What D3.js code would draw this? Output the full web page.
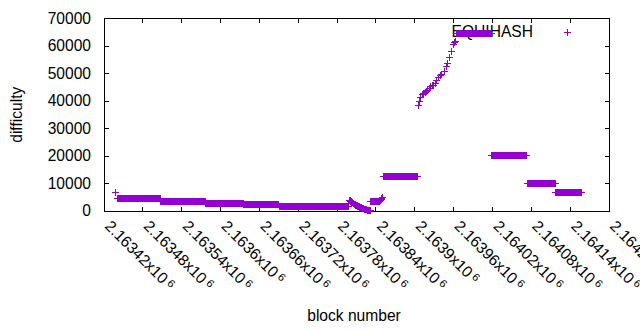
<!DOCTYPE html>
<html><head><meta charset="utf-8">
<script src="https://cdn.jsdelivr.net/npm/d3@7"></script>
<style>
body{margin:0;background:#fff}
svg{display:block}
text{font-family:"Liberation Sans",Arial,sans-serif;fill:#000}
</style>
</head><body>
<svg id="c" width="640" height="330"></svg>
<script>
// ---- data ----
const seriesName = "EQUIHASH";
const xTickValues = [2163420,2163480,2163540,2163600,2163660,2163720,2163780,2163840,2163900,2163960,2164020,2164080,2164140,2164200];
const xTickLabels = ["2.16342","2.16348","2.16354","2.1636","2.16366","2.16372","2.16378","2.16384","2.1639","2.16396","2.16402","2.16408","2.16414","2.1642"];
const yTickValues = [0,10000,20000,30000,40000,50000,60000,70000];
const yTickLabels = ["0","10000","20000","30000","40000","50000","60000","70000"];

// constant-difficulty runs (first block, last block, difficulty)
const runStart = [2163441,2163508,2163577,2163636,2163691,2163852,2163965,2164019,2164074,2164118];
const runEnd   = [2163507,2163576,2163635,2163690,2163798,2163904,2164018,2164073,2164117,2164158];
const runValue = [4600,3500,2750,2200,1800,12700,64500,20100,10000,6800];

// individual blocks (first block, drop, recovery, climb)
const pointBlocks = [2163438,
  2163799,2163800,2163801,2163802,2163803,2163804,2163805,2163806,2163807,2163808,2163809,2163810,2163811,2163812,2163813,2163814,2163815,
  2163816,2163817,2163818,2163819,2163820,2163821,2163822,2163823,2163824,2163825,2163826,2163827,2163828,2163829,2163830,2163831,
  2163832,2163833,2163834,2163835,2163836,2163837,2163838,2163839,2163840,2163841,2163842,2163843,2163844,2163845,2163846,2163847,2163848,
  2163849,2163850,
  2163905,2163907,2163909,2163912,2163914,2163916,2163918,2163920,2163922,2163925,2163927,2163929,2163932,2163934,2163937,2163940,2163942,
  2163946,2163949,2163951,2163953,2163957,2163960,2163962,2163963];
const pointValues = [6800,
  3800,3900,3600,3400,3200,3000,2800,2700,2500,2300,2100,2000,1900,1800,1600,1500,1400,
  1300,1200,1100,1000,900,800,700,600,500,500,400,300,300,200,200,100,
  3400,3500,3500,3400,3500,3600,3500,3500,3600,3500,3600,3500,3500,3600,3700,3900,4200,
  4600,5000,
  38300,39700,41300,42200,42700,43100,43600,44000,44500,45100,45500,45800,46200,47600,48500,49100,49600,
  50700,52500,53800,55900,57900,60400,61100,61800];

// ---- build point table ----
const points = [];
runStart.forEach((s, i) => { for (let b = s; b <= runEnd[i]; b++) points.push({b, v: runValue[i]}); });
pointBlocks.forEach((b, i) => points.push({b, v: pointValues[i]}));

// ---- layout ----
const L = 104, R = 609, T = 18.5, B = 211;
const color = "#9400d3";
const svg = d3.select("#c");
const x = d3.scaleLinear().domain([2163420, 2164200]).range([L, R]);
const y = d3.scaleLinear().domain([0, 70000]).range([B, T]);
const FS = 15.6;

function label(g, px, py, ang, str, anchor) {
  return g.append("text")
    .attr("transform", `translate(${px},${py}) rotate(${ang})`)
    .attr("text-anchor", anchor).attr("font-size", FS).text(str);
}

// border
svg.append("rect").attr("x", L).attr("y", T).attr("width", R - L).attr("height", B - T)
  .attr("fill", "none").attr("stroke", "#000").attr("stroke-width", 1).attr("shape-rendering", "crispEdges");

const tl = 4.5;
// x ticks
const gx = svg.append("g");
gx.selectAll("path.xt").data(xTickValues).join("path")
  .attr("d", d => `M${x(d)},${B}v${-tl}M${x(d)},${T}v${tl}`)
  .attr("stroke", "#000").attr("shape-rendering", "crispEdges");
xTickValues.forEach((d, i) => {
  const t = label(gx, x(d), 227, 45, xTickLabels[i] + "x10", "start");
  t.append("tspan").attr("font-size", 11).attr("dx", 3).attr("dy", -4).text("6");
});
// y ticks
const gy = svg.append("g");
gy.selectAll("path.yt").data(yTickValues).join("path")
  .attr("d", d => `M${L},${y(d)}h${tl}M${R},${y(d)}h${-tl}`)
  .attr("stroke", "#000").attr("shape-rendering", "crispEdges");
yTickValues.forEach((d, i) => label(gy, 91, y(d) + 5, 0, yTickLabels[i], "end"));

// axis titles
label(svg, 22, (T + B) / 2, -90, "difficulty", "middle");
label(svg, 354, 321, 0, "block number", "middle");

// legend
label(svg, 533, 37, 0, seriesName, "end");
svg.append("path").attr("d", `M${567.5 - 3.5},32.5h7M567.5,${32.5 - 3.5}v7`).attr("stroke", color)
  .attr("stroke-width", 1).attr("shape-rendering", "crispEdges");

// points
const s = 3.5;
svg.append("g").attr("shape-rendering", "crispEdges").selectAll("path").data(points).join("path")
  .attr("d", d => `M${x(d.b) - s},${y(d.v)}h${2 * s}M${x(d.b)},${y(d.v) - s}v${2 * s}`)
  .attr("stroke", color).attr("stroke-width", 1).attr("fill", "none");
</script>
</body></html>
